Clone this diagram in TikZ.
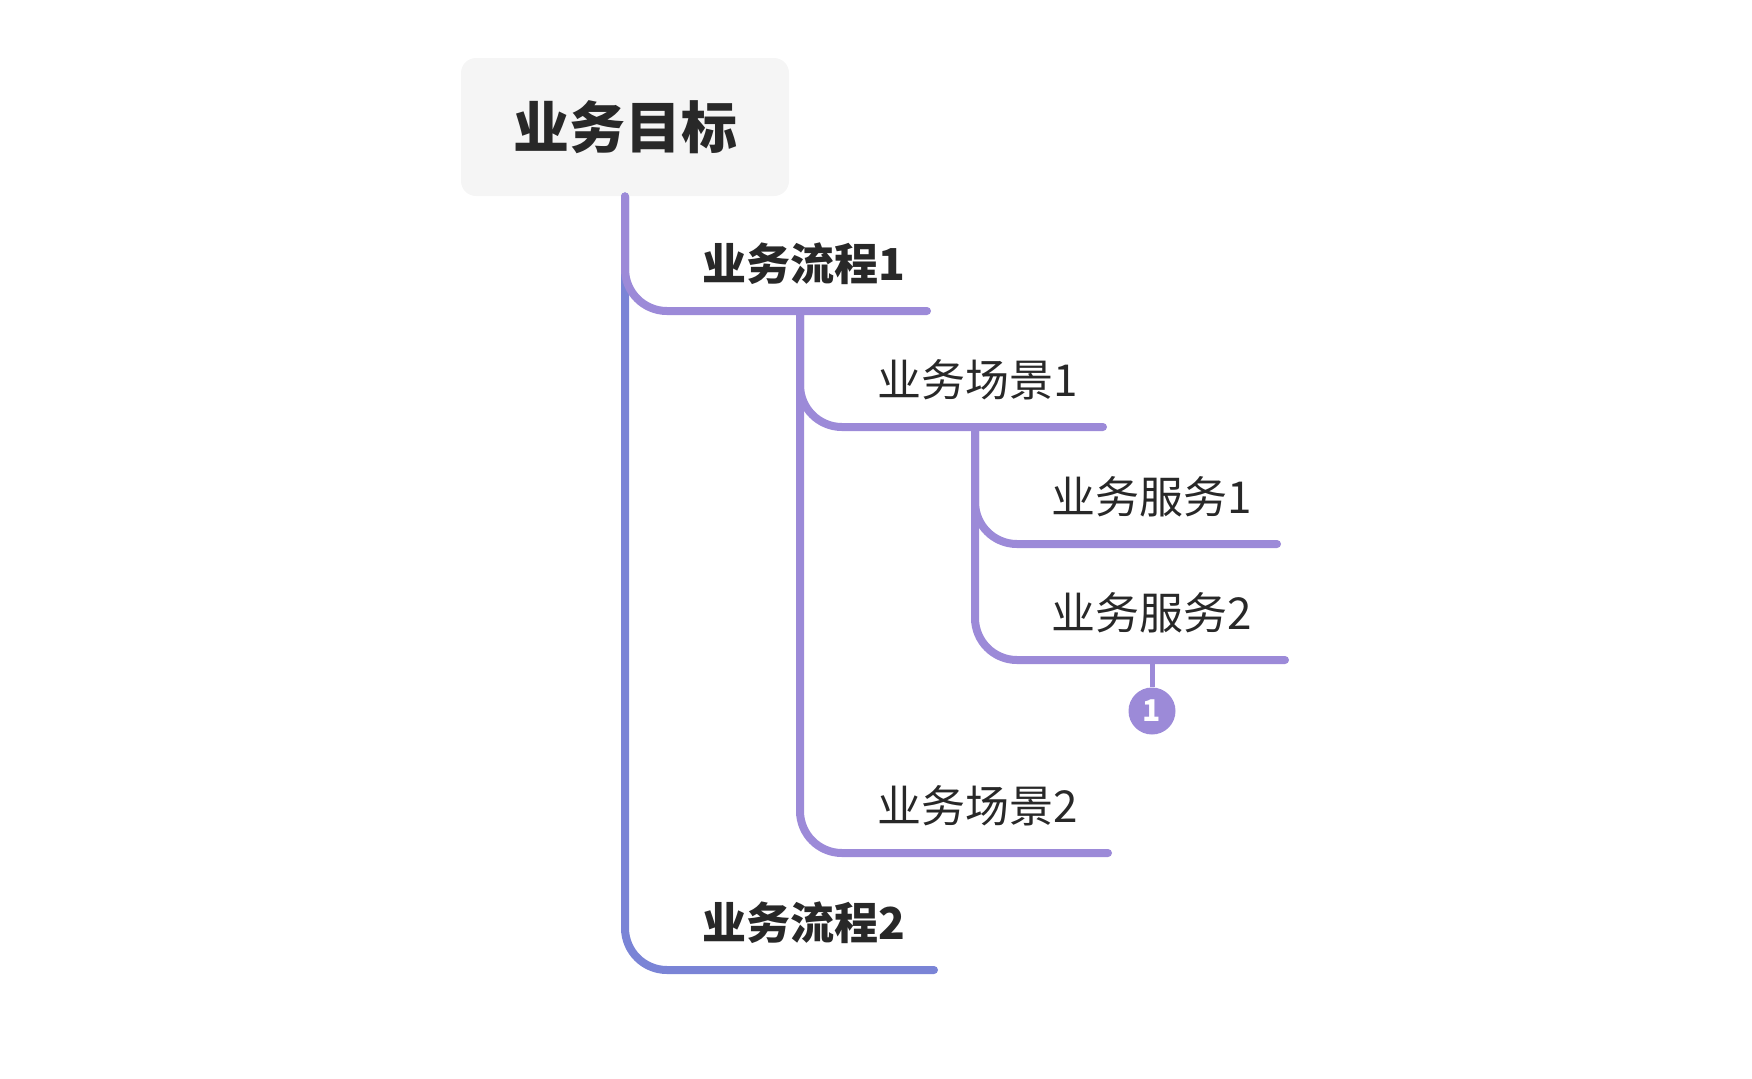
\documentclass[tikz,border=0pt]{standalone}
\usepackage{fontspec}
\setmainfont{Noto Sans CJK SC}
\usetikzlibrary{positioning}

\definecolor{branchpurple}{RGB}{156,138,216}
\definecolor{trunkblue}{RGB}{122,132,214}
\definecolor{rootgray}{RGB}{245,245,245}
\definecolor{labelgray}{RGB}{40,40,40}

\begin{document}
\begin{tikzpicture}[
  x=0.5pt,y=-0.5pt,
  topic/.style={rectangle,rounded corners=7.5pt,fill=rootgray,minimum width=164pt,minimum height=69pt,
    font=\fontsize{28}{30}\selectfont\bfseries,text=labelgray},
  sub/.style={anchor=west,inner sep=0pt,font=\fontsize{22}{24}\selectfont,text=labelgray},
  subbold/.style={sub,font=\fontsize{22}{24}\selectfont\bfseries},
  branch/.style={draw=branchpurple,line width=4pt,line cap=round,rounded corners=21pt},
  trunk/.style={branch,draw=trunkblue},
  stem/.style={draw=branchpurple,line width=2.5pt},
  badge/.style={circle,fill=branchpurple,minimum size=23.5pt,inner sep=0pt,text=white,
    font=\fontsize{15}{15}\selectfont\bfseries}
]
  \useasboundingbox (0,0) rectangle (1752,1078);

  \node[topic] (root) at (625,127) {业务目标};

  % labels
  \node[subbold] (f1) at (702,264) {业务流程1};
  \node[subbold] (f2) at (702,923) {业务流程2};
  \node[sub] (s1) at (877,380) {业务场景1};
  \node[sub] (s2) at (877,806) {业务场景2};
  \node[sub] (v1) at (1051,497) {业务服务1};
  \node[sub] (v2) at (1051,613) {业务服务2};

  % ends of the underlines and junctions
  \coordinate (f1e) at (927,311);
  \coordinate (f2e) at (934,970);
  \coordinate (s1e) at (1103,427);
  \coordinate (s2e) at (1108,853);
  \coordinate (v1e) at (1277,544);
  \coordinate (v2e) at (1285,660);
  \coordinate (f1j) at (800,311);
  \coordinate (s1j) at (975,427);
  \coordinate (v2j) at (1152,660);

  \draw[trunk] (root.south) |- (f2e);
  \draw[branch] (root.south) |- (f1e);
  \draw[branch] (f1j) |- (s2e);
  \draw[branch] (f1j) |- (s1e);
  \draw[branch] (s1j) |- (v2e);
  \draw[branch] (s1j) |- (v1e);

  \node[badge] (badge) at (1152,711) {1};
  \draw[stem] (v2j) -- (badge);
\end{tikzpicture}
\end{document}
